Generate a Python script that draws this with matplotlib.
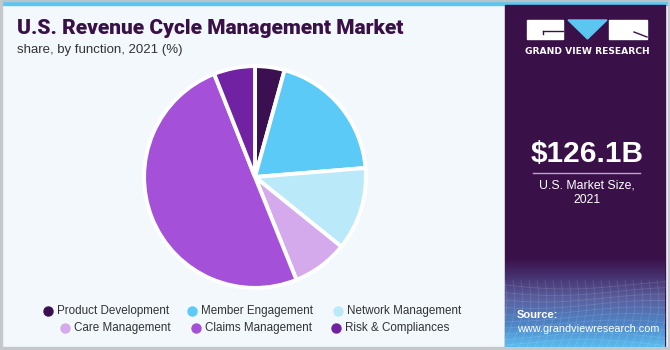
# Import libraries
import numpy as np
import matplotlib.pyplot as plt
from matplotlib.patches import Rectangle, Polygon
from matplotlib.colors import LinearSegmentedColormap

# Market share by function, 2021 (%)
functions = ["Product Development", "Member Engagement", "Network Management",
             "Care Management", "Claims Management", "Risk & Compliances"]
shares = [4.3, 19.4, 12.1, 8.1, 50.1, 6.0]
colors = ["#3a1050", "#5ccaf6", "#bae9f9", "#d5aaed", "#a550d8", "#7022a2"]

market_size = "$126.1B"
market_caption = "U.S. Market Size,\n2021"

W, H = 670, 350
purple = "#3a1049"
sans = ["Liberation Sans", "DejaVu Sans"]

fig = plt.figure(figsize=(W / 100, H / 100), dpi=100)
fig.patch.set_facecolor("#f3f8fc")

# Background layer in pixel coordinates (y down)
bg = fig.add_axes([0, 0, 1, 1])
bg.axis("off")

# Frame lines and top stripe
bg.add_patch(Rectangle((0, 0), W, 5, color="#5bc6ef", zorder=1))
bg.add_patch(Rectangle((0, 0), W, 1, color="#b8c4cc", zorder=2))
bg.add_patch(Rectangle((0, 347), W, 3, color="#c4c8cc", zorder=2))
bg.add_patch(Rectangle((0, 0), 1.5, H, color="#c4c8cc", zorder=2))
bg.add_patch(Rectangle((668, 0), 2, H, color="#c4c8cc", zorder=2))

# Right side panel: dark purple fading to blue at the bottom
bg.add_patch(Rectangle((505, 5), 160, 342, color=purple, zorder=1))
grad = LinearSegmentedColormap.from_list(
    "panel", [(0, purple), (0.2, "#45306e"), (0.45, "#5a5f9e"),
              (0.75, "#4d86c8"), (1, "#5bbcee")])
ramp = np.linspace(0, 1, 200).reshape(-1, 1)
bg.imshow(ramp, cmap=grad, aspect="auto", extent=[505, 665, 347, 258], zorder=2)

# Faint warped mesh in the lower part of the panel
xs = np.linspace(505, 665, 60)
for k in range(10):
    y0 = 285 + k * 6.5
    ys = y0 + 4 * np.sin((xs - 505) / 160 * np.pi * 1.3 + k * 0.3)
    bg.plot(xs, ys, color="white", alpha=0.12, lw=0.6, zorder=3)
for k in range(22):
    x0 = 505 + k * 8
    yy = np.linspace(280, 347, 30)
    xx = x0 + 6 * np.sin((yy - 280) / 67 * np.pi) - (yy - 280) * 0.15
    bg.plot(xx, yy, color="white", alpha=0.12, lw=0.6, zorder=3)

# Logo blocks
bg.add_patch(Rectangle((527, 20), 36, 19, color="white", zorder=4))
bg.add_patch(Polygon([(568, 20), (607, 20), (587.5, 39)], color="#5bc6ef", zorder=4))
bg.add_patch(Rectangle((609, 20), 38, 19, color="white", zorder=4))
bg.plot([543, 563], [31, 31], color=purple, lw=1, zorder=5)
bg.plot([543, 543], [31, 34], color=purple, lw=1, zorder=5)
bg.plot([634, 647], [32, 37], color=purple, lw=1, zorder=5)
bg.text(587, 51, "GRAND VIEW RESEARCH", color="white", fontsize=6.6,
        fontweight="bold", ha="center", va="center", zorder=5)

# Market size call-out
bg.text(587, 154, market_size, color="white", fontsize=21.5, fontweight="bold",
        ha="center", va="center", family=sans, zorder=5)
bg.plot([533, 640], [173, 173], color="#b8a8c8", lw=1, zorder=5)
bg.text(587, 193, market_caption, color="white", fontsize=8.8,
        ha="center", va="center", linespacing=1.25, family=sans, zorder=5)

# Source
bg.text(517, 315, "Source:", color="white", fontsize=8, fontweight="bold",
        ha="left", va="center", family=sans, zorder=5)
bg.text(517, 329, "www.grandviewresearch.com", color="white", fontsize=7.8,
        ha="left", va="center", family=sans, zorder=5)

# Titles
bg.text(17, 29, "U.S. Revenue Cycle Management Market", color=purple,
        fontsize=15, fontweight="black", ha="left", va="center",
        family=["Roboto", "Liberation Sans"])
bg.text(17, 50, "share, by function, 2021 (%)", color="#333333",
        fontsize=9.5, ha="left", va="center", family=sans)

# Pie chart
cx, cy, r = 255, 177, 112
ax = fig.add_axes([(cx - r) / W, (H - cy - r) / H, 2 * r / W, 2 * r / H])
ax.pie(shares, colors=colors, startangle=90, counterclock=False,
       wedgeprops=dict(edgecolor="white", linewidth=2.8))
ax.set_xlim(-1.01, 1.01)
ax.set_ylim(-1.01, 1.01)
ax.axis("off")

# Legend, two centred rows
legend_pos = [(48, 311), (192, 311), (338, 311),
              (65, 328), (196, 328), (336, 328)]
for name, col, (lx, ly) in zip(functions, colors, legend_pos):
    bg.scatter(lx, ly, s=42, color=col, zorder=5)
    bg.text(lx + 9, ly, name, color="#333333", fontsize=8.4,
            ha="left", va="center", family=sans, zorder=5)

bg.set_xlim(0, W)
bg.set_ylim(H, 0)

fig.savefig("out.png", dpi=100, facecolor=fig.get_facecolor())
